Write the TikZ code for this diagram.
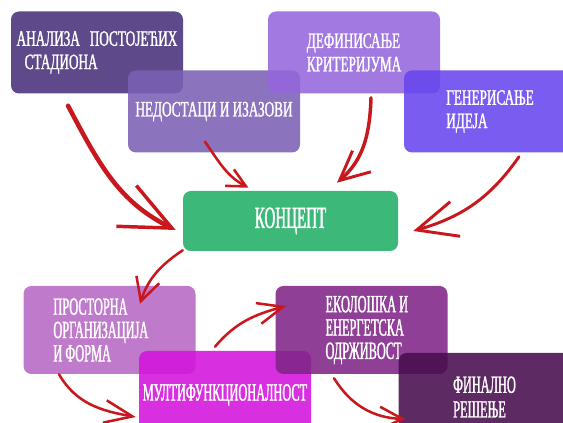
\documentclass[tikz,border=0pt]{standalone}
\usepackage{fontspec}
\setmainfont[FakeStretch=0.6,FakeBold=1.2]{Liberation Serif}
\newfontfamily\narrowfont[FakeStretch=0.5,FakeBold=1.2]{Liberation Serif}
\newfontfamily\tallfont[FakeStretch=0.49,FakeBold=1.2]{Liberation Serif}
\usepackage{tikz}
\usetikzlibrary{arrows.meta}
\definecolor{StAnaliza}{RGB}{72,49,122}
\definecolor{StNedostaci}{RGB}{123,96,180}
\definecolor{StKriterij}{RGB}{148,102,220}
\definecolor{StIdeje}{RGB}{104,70,238}
\definecolor{StKoncept}{RGB}{60,184,120}
\definecolor{StForma}{RGB}{183,104,196}
\definecolor{StMulti}{RGB}{211,19,220}
\definecolor{StEko}{RGB}{127,37,135}
\definecolor{StFinal}{RGB}{72,13,77}
\definecolor{StRed}{RGB}{200,24,30}

\begin{document}
\begin{tikzpicture}[x=0.75pt, y=0.75pt,
          box/.style={rectangle, rounded corners=6pt, fill opacity=0.88,
                      text opacity=1, text=white, align=left, inner sep=0pt,
                      minimum width=129pt, minimum height=61.5pt,
                      font=\fontsize{16.5}{17.5}\selectfont},
          lowbox/.style={box, minimum height=66pt,
                         font=\narrowfont\fontsize{18.5}{17.5}\selectfont},
          concept/.style={rectangle, rounded corners=6pt, fill=StKoncept,
                          text=white, minimum width=161.25pt,
                          minimum height=45pt, inner sep=0pt,
                          font=\tallfont\fontsize{23}{24}\selectfont},
          arr/.style={StRed, line cap=round, line width=1.9pt}
        ]
        \useasboundingbox (0,0) rectangle (563,423);
        \clip (0,0) rectangle (563,423);

        % Analysis
        \node[box, fill=StAnaliza]   (ana) at (97,370.5)
              {АНАЛИЗА\hspace{0.45em}ПОСТОЈЕЋИХ\\\hspace*{6pt}СТАДИОНА};
        \node[box, fill=StNedostaci] (ned) at (214,311.5)
              {НЕДОСТАЦИ И ИЗАЗОВИ};
        \node[box, fill=StKriterij]  (def) at (354,370.5)
              {ДЕФИНИСАЊЕ\\КРИТЕРИЈУМА};
        \node[box, fill=StIdeje]     (gen) at (490,311.5)
              {ГЕНЕРИСАЊЕ\\ИДЕЈА};

        % Concept
        \node[concept] (con) at (290.5,202) {КОНЦЕПТ};

        % Design
        \node[lowbox, fill=StForma] (pro) at (109.5,93)
              {ПРОСТОРНА\\ОРГАНИЗАЦИЈА\rule{13pt}{0pt}\\И ФОРМА};
        \node[lowbox, fill=StMulti] (mul) at (225,28)
              {МУЛТИФУНКЦИОНАЛНОСТ};
        \node[lowbox, fill=StEko]   (eko) at (361.5,93)
              {\hspace*{8pt}ЕКОЛОШКА И\\\hspace*{8pt}ЕНЕРГЕТСКА\\\hspace*{8pt}ОДРЖИВОСТ};
        \node[lowbox, fill=StFinal, font=\narrowfont\fontsize{18.5}{18.5}\selectfont]
              (fin) at (484.5,26) {ФИНАЛНО\\РЕШЕЊЕ};

        % Arrows into the concept
        \draw[arr, line width=3.4pt,
              -{Straight Barb[length=38pt,width=34pt,line width=2.6pt]}]
              ([shift={(-29,-12)}]ana.south) to[out=-62,in=154]
              ([shift={(-7,-9)}]con.west);
        \draw[arr, -{Straight Barb[length=14pt,width=14pt]}]
              ([shift={(-9,11)}]ned.south) to[out=-55,in=152]
              ([shift={(-42,3)}]con.north);
        \draw[arr, line width=2.6pt,
              -{Straight Barb[length=22pt,width=21pt,line width=2.2pt]}]
              ([shift={(17,-4)}]def.south) to[out=-92,in=41]
              ([shift={(46.5,8)}]con.north);
        \draw[arr, line width=2.2pt,
              -{Straight Barb[length=30pt,width=27pt]}]
              ([shift={(29,-4)}]gen.south) to[out=235,in=16]
              ([shift={(15,-10)}]con.east);

        % Arrows out of the concept
        \draw[arr, -{Straight Barb[length=17pt,width=18pt]}]
              ([shift={(0,1)}]con.south west) to[out=214,in=72]
              ([shift={(30.5,-18)}]pro.north);
        \draw[arr, -{Straight Barb[length=21pt,width=17pt]}]
              ([shift={(-50.5,0)}]pro.south) to[out=-60,in=170]
              ([shift={(-3,-22)}]mul.west);
        \draw[arr, -{Straight Barb[length=19pt,width=16pt]}]
              ([shift={(-10,4)}]mul.north) to[out=50,in=195]
              ([shift={(11,24)}]eko.west);
        \draw[arr, -{Straight Barb[length=17pt,width=17pt]}]
              ([shift={(-27.5,-4)}]eko.south) to[out=-58,in=178]
              ([shift={(7,-22)}]fin.west);
      \end{tikzpicture}
\end{document}
